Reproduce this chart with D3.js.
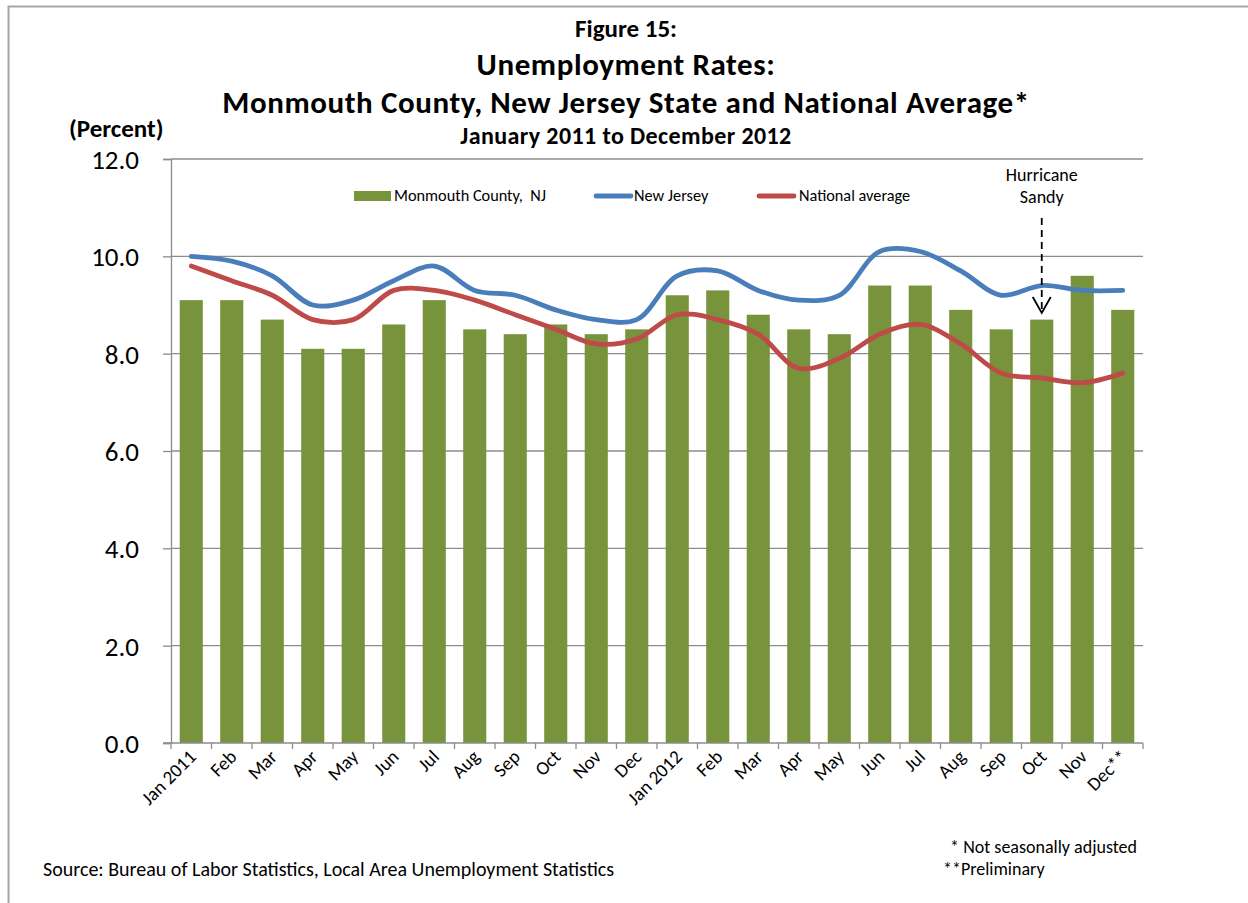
<!DOCTYPE html>
<html lang="en">
<head>
    <meta charset="UTF-8">
    <title>Figure 15: Unemployment Rates</title>
    <script src="https://d3js.org/d3.v7.min.js"></script>
    <style>
        body {
            margin: 0;
            padding: 0;
            background-color: #ffffff;
            font-family: Carlito, Lato, "Open Sans", sans-serif;
        }

        svg text {
            fill: #000;
        }

        .grid line {
            stroke: #8c8c8c;
            stroke-width: 1.3px;
        }

        .bar {
            fill: #77933c;
        }

        .line {
            fill: none;
            stroke-width: 4.8px;
            stroke-linecap: round;
        }
    </style>
</head>
<body>
    <svg width="1248" height="903"></svg>

    <script>
        const months = ["Jan 2011", "Feb", "Mar", "Apr", "May", "Jun", "Jul", "Aug", "Sep", "Oct", "Nov", "Dec",
            "Jan 2012", "Feb", "Mar", "Apr", "May", "Jun", "Jul", "Aug", "Sep", "Oct", "Nov", "Dec**"];

        const monmouth = [9.1, 9.1, 8.7, 8.1, 8.1, 8.6, 9.1, 8.5, 8.4, 8.6, 8.4, 8.5,
            9.2, 9.3, 8.8, 8.5, 8.4, 9.4, 9.4, 8.9, 8.5, 8.7, 9.6, 8.9];

        const newJersey = [10.0, 9.9, 9.6, 9.0, 9.1, 9.5, 9.8, 9.3, 9.2, 8.9, 8.7, 8.7,
            9.6, 9.7, 9.3, 9.1, 9.2, 10.1, 10.1, 9.7, 9.2, 9.4, 9.3, 9.3];

        const national = [9.8, 9.5, 9.2, 8.7, 8.7, 9.3, 9.3, 9.1, 8.8, 8.5, 8.2, 8.3,
            8.8, 8.7, 8.4, 7.7, 7.9, 8.4, 8.6, 8.2, 7.6, 7.5, 7.4, 7.6];

        const yTicks = [0, 2, 4, 6, 8, 10, 12];

        const svg = d3.select("svg");

        // outer frame (only left and top visible)
        svg.append("path")
            .attr("d", "M8.5,903 L8.5,6.5 L1248,6.5")
            .attr("fill", "none")
            .attr("stroke", "#a6a6a6")
            .attr("stroke-width", 2);

        const plotLeft = 171, plotRight = 1143, plotTop = 159, plotBottom = 743;

        const x = d3.scaleBand()
            .domain(d3.range(months.length))
            .range([plotLeft, plotRight])
            .paddingInner(0.43)
            .paddingOuter(0.215);

        const xc = d3.scaleBand()
            .domain(d3.range(months.length))
            .range([plotLeft, plotRight]);

        const y = d3.scaleLinear()
            .domain([0, 12])
            .range([plotBottom, plotTop]);

        // gridlines
        svg.append("g")
            .attr("class", "grid")
            .selectAll("line")
            .data(yTicks.filter(d => d > 0))
            .enter().append("line")
            .attr("x1", plotLeft)
            .attr("x2", plotRight)
            .attr("y1", d => y(d))
            .attr("y2", d => y(d));

        // y axis
        const yAxis = svg.append("g")
            .attr("transform", `translate(${plotLeft},0)`)
            .call(d3.axisLeft(y).tickValues(yTicks).tickFormat(d3.format(".1f")).tickSize(8).tickPadding(24));
        yAxis.attr("font-family", "Carlito, Lato, sans-serif").attr("font-size", 27);
        yAxis.select(".domain").attr("stroke", "#8c8c8c").attr("stroke-width", 1.3);
        yAxis.selectAll(".tick line").attr("stroke", "#8c8c8c").attr("stroke-width", 1.3);
        yAxis.selectAll(".tick text").attr("dy", "0.35em");

        // bars
        svg.append("g")
            .selectAll("rect")
            .data(monmouth)
            .enter().append("rect")
            .attr("class", "bar")
            .attr("x", (d, i) => x(i))
            .attr("width", x.bandwidth())
            .attr("y", d => y(d))
            .attr("height", d => y(0) - y(d));

        // x axis
        const xAxis = svg.append("g")
            .attr("transform", `translate(0,${plotBottom})`);
        xAxis.append("line")
            .attr("x1", plotLeft - 8)
            .attr("x2", plotRight)
            .attr("stroke", "#8c8c8c")
            .attr("stroke-width", 1.3);
        xAxis.selectAll(".xtick")
            .data(d3.range(months.length + 1))
            .enter().append("line")
            .attr("x1", i => plotLeft + i * xc.bandwidth())
            .attr("x2", i => plotLeft + i * xc.bandwidth())
            .attr("y1", 0)
            .attr("y2", 6)
            .attr("stroke", "#8c8c8c")
            .attr("stroke-width", 1.3);
        xAxis.selectAll(".xlabel")
            .data(months)
            .enter().append("text")
            .attr("text-anchor", "end")
            .attr("transform", (d, i) => `translate(${xc(i) + xc.bandwidth() / 2 + 6},${15}) rotate(-45)`)
            .style("font-size", "19px")
            .text(d => d);

        // lines
        const lineGen = d3.line()
            .x((d, i) => xc(i) + xc.bandwidth() / 2)
            .y(d => y(d))
            .curve(d3.curveCatmullRom.alpha(0.5));

        svg.append("path")
            .datum(newJersey)
            .attr("class", "line")
            .attr("stroke", "#4a7ebb")
            .attr("d", lineGen);

        svg.append("path")
            .datum(national)
            .attr("class", "line")
            .attr("stroke", "#be4b48")
            .attr("d", lineGen);

        // legend
        const legend = svg.append("g").style("font-size", "16.3px");
        legend.append("rect")
            .attr("x", 354).attr("y", 191).attr("width", 37).attr("height", 10)
            .attr("fill", "#77933c");
        legend.append("text").attr("x", 394).attr("y", 201).text("Monmouth County,  NJ").attr("xml:space", "preserve");
        legend.append("line")
            .attr("x1", 596).attr("x2", 631).attr("y1", 196).attr("y2", 196)
            .attr("stroke", "#4a7ebb").attr("stroke-width", 4.8).attr("stroke-linecap", "round");
        legend.append("text").attr("x", 634).attr("y", 201).text("New Jersey");
        legend.append("line")
            .attr("x1", 759).attr("x2", 794).attr("y1", 196).attr("y2", 196)
            .attr("stroke", "#be4b48").attr("stroke-width", 4.8).attr("stroke-linecap", "round");
        legend.append("text").attr("x", 799).attr("y", 201).text("National average");

        // Hurricane Sandy annotation
        const sx = xc(21) + xc.bandwidth() / 2;
        svg.append("text").attr("x", sx).attr("y", 181).attr("text-anchor", "middle")
            .style("font-size", "18px").text("Hurricane");
        svg.append("text").attr("x", sx).attr("y", 203).attr("text-anchor", "middle")
            .style("font-size", "18px").text("Sandy");
        svg.append("line")
            .attr("x1", sx).attr("x2", sx).attr("y1", 218).attr("y2", 312)
            .attr("stroke", "#000").attr("stroke-width", 1.8).attr("stroke-dasharray", "7,5");
        svg.append("path")
            .attr("d", `M${sx - 9},297 L${sx},313 L${sx + 9},297`)
            .attr("fill", "none").attr("stroke", "#000").attr("stroke-width", 1.8);

        // titles
        const titles = [
            { text: "Figure 15:", y: 37, size: 25, spacing: 0 },
            { text: "Unemployment Rates:", y: 75, size: 31, spacing: 0.6 },
            { text: "Monmouth County, New Jersey State and National Average*", y: 112.5, size: 31, spacing: 0.6 },
            { text: "January 2011 to December 2012", y: 143.5, size: 24, spacing: 0.4 }
        ];
        svg.selectAll(".title")
            .data(titles)
            .enter().append("text")
            .attr("x", 626)
            .attr("y", d => d.y)
            .attr("text-anchor", "middle")
            .style("font-weight", "bold")
            .style("font-size", d => d.size + "px")
            .style("letter-spacing", d => d.spacing + "px")
            .text(d => d.text);

        svg.append("text").attr("x", 69).attr("y", 137)
            .style("font-size", "25px").style("font-weight", "bold").text("(Percent)");

        // footnotes
        svg.append("text").attr("x", 43).attr("y", 876)
            .style("font-size", "20px").text("Source: Bureau of Labor Statistics, Local Area Unemployment Statistics");
        svg.append("text").attr("x", 1137).attr("y", 853).attr("text-anchor", "end")
            .style("font-size", "18px").text("* Not seasonally adjusted");
        svg.append("text").attr("x", 943).attr("y", 875)
            .style("font-size", "18px").text("**Preliminary");
    </script>
</body>
</html>
